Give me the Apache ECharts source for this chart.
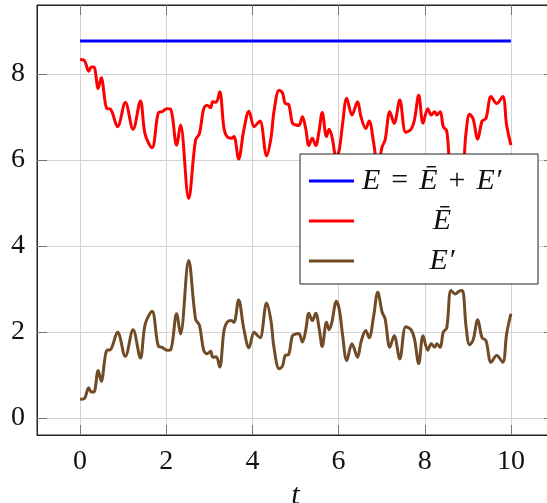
<!DOCTYPE html>
<html>
<head>
<meta charset="utf-8">
<script src="https://cdn.jsdelivr.net/npm/echarts@6/dist/echarts.min.js"></script>
<style>
  html, body { margin: 0; padding: 0; background: #fff; }
  #chart { width: 547px; height: 503px; }
</style>
</head>
<body>
<div id="chart"></div>
<script>
// sample times (t) and the values
var times = [0.00, 0.10, 0.20, 0.26, 0.32, 0.42, 0.49, 0.62, 0.70, 0.87,
  1.05, 1.23, 1.40, 1.51, 1.67, 1.82, 1.91, 2.01, 2.10, 2.24,
  2.33, 2.52, 2.68, 2.77, 2.87, 2.95, 3.03, 3.08, 3.16, 3.24,
  3.34, 3.41, 3.51, 3.57, 3.68, 3.80, 3.92, 4.04, 4.12, 4.18,
  4.33, 4.43, 4.50, 4.62, 4.70, 4.76, 4.84, 4.93, 5.02, 5.08,
  5.16, 5.24, 5.31, 5.39, 5.47, 5.55, 5.62, 5.72, 5.78, 5.84,
  5.95, 6.02, 6.09, 6.19, 6.31, 6.44, 6.52, 6.63, 6.71, 6.81,
  6.91, 7.01, 7.08, 7.19, 7.29, 7.42, 7.56, 7.68, 7.76, 7.86,
  7.96, 8.07, 8.15, 8.23, 8.28, 8.36, 8.43, 8.51, 8.61, 8.71,
  8.79, 8.87, 8.96, 9.04, 9.12, 9.23, 9.33, 9.42, 9.54, 9.67,
  9.81, 9.90, 10.00];

// E' (brown)
var ePrime = [0.43, 0.45, 0.70, 0.60, 0.60, 1.10, 0.85, 1.57, 1.58, 1.99,
  1.43, 2.05, 1.39, 2.17, 2.48, 1.66, 1.64, 1.57, 1.58, 2.42,
  1.95, 3.66, 2.30, 2.15, 1.57, 1.49, 1.55, 1.41, 1.42, 1.18,
  2.03, 2.22, 2.26, 2.22, 2.74, 2.07, 1.63, 1.99, 1.91, 1.86,
  2.67, 2.26, 1.64, 1.14, 1.21, 1.45, 1.47, 1.91, 1.95, 1.96,
  1.76, 2.05, 2.43, 2.26, 2.43, 2.07, 1.66, 2.22, 2.05, 2.20,
  2.71, 2.50, 1.95, 1.33, 1.72, 1.41, 1.76, 2.03, 1.86, 2.34,
  2.92, 2.46, 2.30, 1.64, 1.91, 1.37, 2.12, 2.05, 1.84, 1.26,
  1.91, 1.57, 1.72, 1.64, 1.72, 1.64, 1.99, 2.09, 2.96, 2.88,
  2.94, 2.96, 2.11, 1.70, 1.80, 2.28, 1.86, 1.80, 1.29, 1.45,
  1.29, 1.95, 2.42];

// E bar (red)
var eBar = [8.33, 8.31, 8.06, 8.16, 8.16, 7.66, 7.91, 7.19, 7.18, 6.77,
  7.33, 6.71, 7.37, 6.59, 6.28, 7.10, 7.12, 7.19, 7.18, 6.34,
  6.81, 5.10, 6.46, 6.61, 7.19, 7.27, 7.21, 7.35, 7.34, 7.58,
  6.73, 6.54, 6.50, 6.54, 6.02, 6.69, 7.13, 6.77, 6.85, 6.90,
  6.09, 6.50, 7.12, 7.62, 7.55, 7.31, 7.29, 6.85, 6.81, 6.80,
  7.00, 6.71, 6.33, 6.50, 6.33, 6.69, 7.10, 6.54, 6.71, 6.56,
  6.05, 6.26, 6.81, 7.43, 7.04, 7.35, 7.00, 6.73, 6.90, 6.42,
  5.84, 6.30, 6.46, 7.12, 6.85, 7.39, 6.64, 6.71, 6.92, 7.50,
  6.85, 7.19, 7.04, 7.12, 7.04, 7.12, 6.77, 6.67, 5.80, 5.88,
  5.82, 5.80, 6.65, 7.06, 6.96, 6.48, 6.90, 6.96, 7.47, 7.31,
  7.47, 6.81, 6.34];

// total energy E (blue), constant
var eTimes = [0, 10];
var eTotal = [8.76, 8.76];

var xTicks = [0, 2, 4, 6, 8, 10];
var yTicks = [0, 2, 4, 6, 8];

function pairs(xs, ys) {
  return xs.map(function (x, i) { return [x, ys[i]]; });
}

var serif = 'Liberation Serif';
var gridColor = '#d3d3d3';
var tickColor = '#777';
var lfs = 30;

var myChart = echarts.init(document.getElementById('chart'));

var option = {
  animation: false,
  grid: {
    left: 37, top: 5, bottom: 68, right: -7,
    containLabel: false, outerBoundsMode: 'none',
    show: true, borderColor: '#222', borderWidth: 1
  },
  legend: {
    orient: 'vertical',
    left: 300, top: 154,
    padding: [10, 13, 6, 9],
    itemGap: 6,
    itemWidth: 45, itemHeight: 3,
    icon: 'rect',
    backgroundColor: '#fff',
    borderColor: '#222', borderWidth: 1, borderRadius: 0,
    data: ['E', 'Ebar', 'Eprime'],
    formatter: function (name) {
      if (name === 'E') return '{f|E}{o|=}{i|Ē}{o|+}{i|E′}';
      if (name === 'Ebar') return '{c|Ē}';
      return '{c|E′}';
    },
    textStyle: {
      fontFamily: serif, fontSize: lfs, color: '#111', lineHeight: 34,
      rich: {
        f: { fontFamily: serif, fontStyle: 'italic', fontSize: lfs, color: '#111', lineHeight: 34, padding: [0, 0, 0, 3] },
        i: { fontFamily: serif, fontStyle: 'italic', fontSize: lfs, color: '#111', lineHeight: 34 },
        o: { fontFamily: serif, fontSize: lfs, color: '#111', lineHeight: 34, padding: [0, 11, 0, 11] },
        c: { fontFamily: serif, fontStyle: 'italic', fontSize: lfs, color: '#111', width: 166, align: 'center', lineHeight: 34 }
      }
    }
  },
  xAxis: [
    {
      type: 'value', min: -1, max: 11,
      name: 't', nameLocation: 'middle', nameGap: 41,
      nameTextStyle: { fontFamily: serif, fontStyle: 'italic', fontSize: 30, color: '#111' },
      axisLine: { show: true, onZero: false, lineStyle: { color: '#222', width: 1 } },
      axisTick: { show: true, inside: true, length: 10, customValues: xTicks, lineStyle: { color: tickColor } },
      axisLabel: { customValues: xTicks, margin: 13, fontFamily: serif, fontSize: 28, color: '#111' },
      splitLine: { show: true, lineStyle: { color: gridColor, width: 1 } }
    },
    {
      type: 'value', min: -1, max: 11, position: 'top',
      axisLine: { show: true, onZero: false, lineStyle: { color: '#222', width: 1 } },
      axisTick: { show: true, inside: true, length: 10, customValues: xTicks, lineStyle: { color: tickColor } },
      axisLabel: { show: false },
      splitLine: { show: false }
    }
  ],
  yAxis: [
    {
      type: 'value', min: -0.4, max: 9.6,
      axisLine: { show: true, onZero: false, lineStyle: { color: '#222', width: 1 } },
      axisTick: { show: true, inside: true, length: 10, customValues: yTicks, lineStyle: { color: tickColor } },
      axisLabel: { customValues: yTicks, margin: 12, fontFamily: serif, fontSize: 28, color: '#111' },
      splitLine: { show: true, lineStyle: { color: gridColor, width: 1 } }
    },
    {
      type: 'value', min: -0.4, max: 9.6, position: 'right',
      axisLine: { show: true, onZero: false, lineStyle: { color: '#222', width: 1 } },
      axisTick: { show: true, inside: true, length: 10, customValues: yTicks, lineStyle: { color: tickColor } },
      axisLabel: { show: false },
      splitLine: { show: false }
    }
  ],
  series: [
    {
      name: 'E', type: 'line', showSymbol: false, symbol: 'none',
      data: pairs(eTimes, eTotal),
      lineStyle: { color: '#0000ff', width: 3 }, itemStyle: { color: '#0000ff' }
    },
    {
      name: 'Ebar', type: 'line', showSymbol: false, symbol: 'none', smooth: 0.35,
      data: pairs(times, eBar),
      lineStyle: { color: '#ff0000', width: 3 }, itemStyle: { color: '#ff0000' }
    },
    {
      name: 'Eprime', type: 'line', showSymbol: false, symbol: 'none', smooth: 0.35,
      data: pairs(times, ePrime),
      lineStyle: { color: '#714b25', width: 3 }, itemStyle: { color: '#714b25' }
    }
  ]
};

myChart.setOption(option);
</script>
</body>
</html>
